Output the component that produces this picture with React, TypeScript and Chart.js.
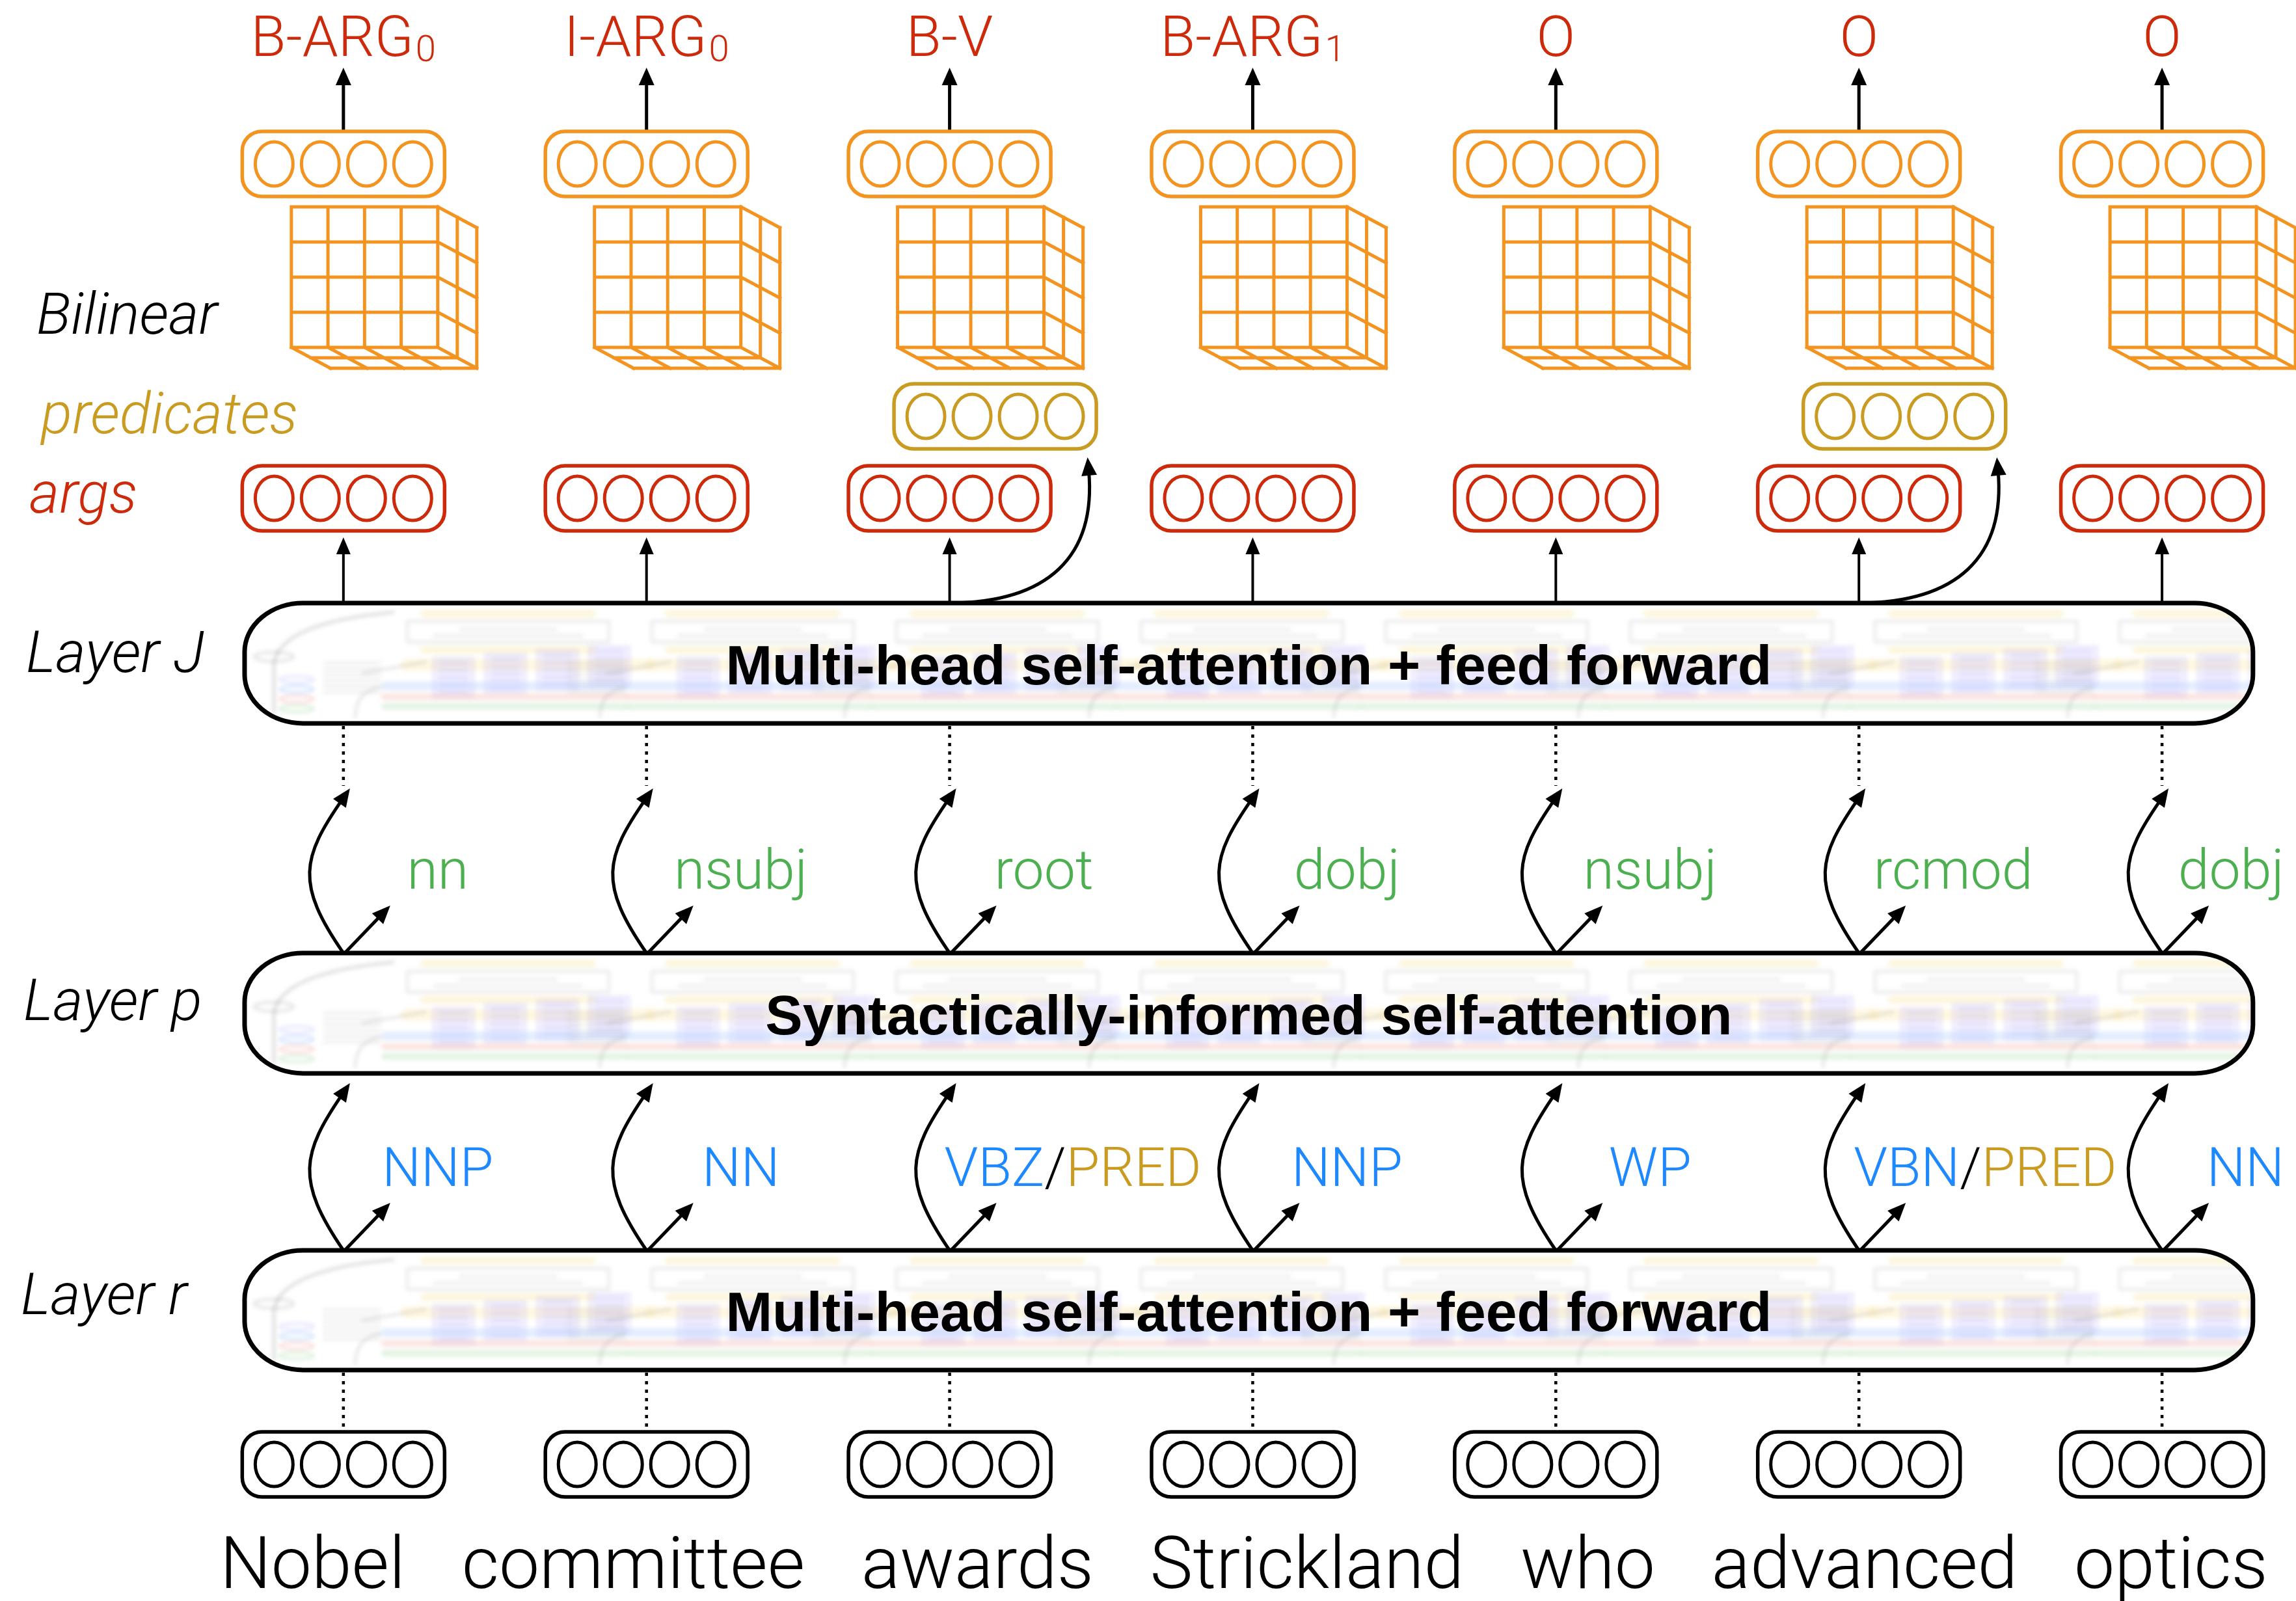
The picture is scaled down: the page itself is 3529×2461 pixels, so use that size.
import React, { useEffect, useRef } from "react";
import { Chart, registerables } from "chart.js";

Chart.register(...registerables);

// ---------------- data ----------------
const words = ["Nobel", "committee", "awards", "Strickland", "who", "advanced", "optics"];
const posTags = ["NNP", "NN", "VBZ/PRED", "NNP", "WP", "VBN/PRED", "NN"];
const depLabels = ["nn", "nsubj", "root", "dobj", "nsubj", "rcmod", "dobj"];
const srlTags = ["B-ARG0", "I-ARG0", "B-V", "B-ARG1", "O", "O", "O"];
const layerNames = ["Layer r", "Layer p", "Layer J"];
const layerTitles = [
  "Multi-head self-attention + feed forward",
  "Syntactically-informed self-attention",
  "Multi-head self-attention + feed forward",
];
const sideLabels = ["Bilinear", "predicates", "args"];
const unitsPerVector = 4;

// ---------------- layout / style ----------------
const W = 3529;
const H = 2461;
const X_MIN = -1.133;
const X_MAX = 6.442;
const LAYER_X = [-0.326, 6.3];
const ROW = {
  tagBase: 86,
  outTip: 104,
  outBox: 252,
  cubeTop: 318,
  pred: 640,
  args: 766,
  layers: [
    [1922, 2106],
    [1465, 1650],
    [927, 1112],
  ],
  emb: 2251,
  wordBase: 2441,
};
const COL = {
  red: "#CC2A0A",
  orange: "#F39420",
  gold: "#C99B21",
  green: "#4CAF50",
  blue: "#1E88FF",
  black: "#000000",
};
const LIGHT = "Roboto, 'Liberation Sans', sans-serif";
const BOLD = "'Liberation Sans', Arial, sans-serif";

type Ctx = CanvasRenderingContext2D;

function rrect(ctx: Ctx, x: number, y: number, w: number, h: number, r: number) {
  ctx.beginPath();
  ctx.moveTo(x + r, y);
  ctx.arcTo(x + w, y, x + w, y + h, r);
  ctx.arcTo(x + w, y + h, x, y + h, r);
  ctx.arcTo(x, y + h, x, y, r);
  ctx.arcTo(x, y, x + w, y, r);
  ctx.closePath();
}

function pillPath(ctx: Ctx, x: number, y: number, w: number, h: number, rx: number, ry: number) {
  ctx.beginPath();
  ctx.moveTo(x + rx, y);
  ctx.lineTo(x + w - rx, y);
  ctx.ellipse(x + w - rx, y + ry, rx, ry, 0, -Math.PI / 2, 0);
  ctx.lineTo(x + w, y + h - ry);
  ctx.ellipse(x + w - rx, y + h - ry, rx, ry, 0, 0, Math.PI / 2);
  ctx.lineTo(x + rx, y + h);
  ctx.ellipse(x + rx, y + h - ry, rx, ry, 0, Math.PI / 2, Math.PI);
  ctx.lineTo(x, y + ry);
  ctx.ellipse(x + rx, y + ry, rx, ry, 0, Math.PI, Math.PI * 1.5);
  ctx.closePath();
}

function vecBox(ctx: Ctx, cx: number, cy: number, color: string) {
  const w = 311, h = 100;
  ctx.save();
  ctx.strokeStyle = color;
  ctx.lineWidth = 5.5;
  rrect(ctx, cx - w / 2, cy - h / 2, w, h, 30);
  ctx.stroke();
  ctx.lineWidth = 5;
  for (let k = 0; k < unitsPerVector; k++) {
    ctx.beginPath();
    ctx.ellipse(cx + (k - (unitsPerVector - 1) / 2) * 71, cy, 29, 34, 0, 0, Math.PI * 2);
    ctx.stroke();
  }
  ctx.restore();
}

function arrowHead(ctx: Ctx, tx: number, ty: number, dx: number, dy: number, len: number, hw: number) {
  const n = Math.hypot(dx, dy);
  const ux = dx / n, uy = dy / n;
  const bx = tx - ux * len, by = ty - uy * len;
  ctx.beginPath();
  ctx.moveTo(tx, ty);
  ctx.lineTo(bx - uy * hw, by + ux * hw);
  ctx.lineTo(bx + uy * hw, by - ux * hw);
  ctx.closePath();
  ctx.fill();
}

function straightArrow(ctx: Ctx, x0: number, y0: number, x1: number, y1: number, lw: number, len: number, hw: number) {
  const dx = x1 - x0, dy = y1 - y0, n = Math.hypot(dx, dy);
  ctx.lineWidth = lw;
  ctx.beginPath();
  ctx.moveTo(x0, y0);
  ctx.lineTo(x1 - (dx / n) * len * 0.8, y1 - (dy / n) * len * 0.8);
  ctx.stroke();
  arrowHead(ctx, x1, y1, dx, dy, len, hw);
}

function curveArrow(
  ctx: Ctx,
  x0: number, y0: number,
  c1x: number, c1y: number,
  c2x: number, c2y: number,
  x1: number, y1: number,
  lw: number, len: number, hw: number
) {
  const dx = x1 - c2x, dy = y1 - c2y, n = Math.hypot(dx, dy);
  const sx = (dx / n) * len * 0.7, sy = (dy / n) * len * 0.7;
  ctx.lineWidth = lw;
  ctx.beginPath();
  ctx.moveTo(x0, y0);
  ctx.bezierCurveTo(c1x, c1y, c2x, c2y, x1 - sx, y1 - sy);
  ctx.stroke();
  arrowHead(ctx, x1, y1, dx, dy, len, hw);
}

function cube(ctx: Ctx, x: number, y: number, w: number, h: number, dx: number, dy: number, n: number, d: number) {
  ctx.save();
  ctx.strokeStyle = COL.orange;
  ctx.lineWidth = 5;
  ctx.lineCap = "square";
  ctx.beginPath();
  for (let k = 0; k <= n; k++) {
    const gx = x + (k * w) / n;
    ctx.moveTo(gx, y);
    ctx.lineTo(gx, y + h);
    const gy = y + (k * h) / n;
    ctx.moveTo(x, gy);
    ctx.lineTo(x + w, gy);
  }
  for (let k = 0; k <= n; k++) {
    const gy = y + (k * h) / n;
    ctx.moveTo(x + w, gy);
    ctx.lineTo(x + w + dx, gy + dy);
    const gx = x + (k * w) / n;
    ctx.moveTo(gx, y + h);
    ctx.lineTo(gx + dx, y + h + dy);
  }
  for (let j = 1; j <= d; j++) {
    const ox = (dx * j) / d, oy = (dy * j) / d;
    ctx.moveTo(x + w + ox, y + oy);
    ctx.lineTo(x + w + ox, y + h + oy);
    ctx.moveTo(x + ox, y + h + oy);
    ctx.lineTo(x + w + ox, y + h + oy);
  }
  ctx.stroke();
  ctx.restore();
}

function tagText(ctx: Ctx, text: string, cx: number, base: number, size: number, color: string) {
  const m = text.match(/^(.*?)(\d+)$/);
  const main = m ? m[1] : text;
  const sub = m ? m[2] : "";
  const subSize = size * 0.64;
  ctx.font = `300 ${size}px ${LIGHT}`;
  const w1 = ctx.measureText(main).width;
  ctx.font = `300 ${subSize}px ${LIGHT}`;
  const w2 = sub ? ctx.measureText(sub).width + 3 : 0;
  const left = cx - (w1 + w2) / 2;
  ctx.fillStyle = color;
  ctx.textAlign = "left";
  ctx.textBaseline = "alphabetic";
  ctx.font = `300 ${size}px ${LIGHT}`;
  ctx.fillText(main, left, base);
  if (sub) {
    ctx.font = `300 ${subSize}px ${LIGHT}`;
    ctx.fillText(sub, left + w1 + 3, base + 8);
  }
}

function labelLeft(cx: number, w: number) {
  return Math.max(cx - 8, Math.min(cx + 145 - w / 2, W - 18 - w));
}

function posText(ctx: Ctx, tag: string, cx: number, base: number, size: number) {
  const parts = tag.split("/");
  const pieces: { t: string; c: string }[] = [{ t: parts[0], c: COL.blue }];
  if (parts.length > 1) {
    pieces.push({ t: "/", c: COL.black });
    pieces.push({ t: parts[1], c: COL.gold });
  }
  ctx.font = `300 ${size}px ${LIGHT}`;
  ctx.textAlign = "left";
  ctx.textBaseline = "alphabetic";
  const total = pieces.reduce((s, p) => s + ctx.measureText(p.t).width, 0);
  let x = labelLeft(cx, total);
  for (const p of pieces) {
    ctx.fillStyle = p.c;
    ctx.fillText(p.t, x, base);
    x += ctx.measureText(p.t).width;
  }
}

function layerTexture(ctx: Ctx, x0: number, y0: number, x1: number, y1: number) {
  ctx.save();
  pillPath(ctx, x0, y0, x1 - x0, y1 - y0, 90, 75);
  ctx.clip();
  ctx.filter = "blur(3px)";
  const mid = (y0 + y1) / 2;
  ctx.strokeStyle = "rgba(140,140,140,0.35)";
  ctx.lineWidth = 4;
  ctx.beginPath();
  ctx.moveTo(x0 + 230, y0 + 14);
  ctx.quadraticCurveTo(x0 + 55, y0 + 30, x0 + 45, mid);
  ctx.lineTo(x0 + 45, y1 - 14);
  ctx.stroke();
  ctx.strokeStyle = "rgba(140,140,140,0.25)";
  ctx.beginPath();
  ctx.ellipse(x0 + 45, mid - 10, 30, 7, 0, 0, Math.PI * 2);
  ctx.stroke();
  const marks = ["rgba(150,150,255,0.3)", "rgba(100,160,255,0.35)", "rgba(240,130,120,0.35)", "rgba(120,200,120,0.35)"];
  marks.forEach((c, i) => {
    ctx.strokeStyle = c;
    ctx.lineWidth = 3;
    ctx.beginPath();
    ctx.ellipse(x0 + 80, mid + 25 + i * 15, 26, 5, 0, 0, Math.PI * 2);
    ctx.stroke();
  });
  for (let ux = x0 + 270; ux < x1 - 60; ux += 376) {
    ctx.fillStyle = "rgba(250,228,160,0.35)";
    rrect(ctx, ux, y0 + 10, 270, 12, 6);
    ctx.fill();
    ctx.strokeStyle = "rgba(150,150,150,0.28)";
    ctx.lineWidth = 3;
    ctx.strokeRect(ux - 20, y0 + 28, 310, 32);
    ctx.fillStyle = "rgba(150,150,150,0.2)";
    ctx.fillRect(ux + 60, y0 + 38, 150, 4);
    ctx.fillRect(ux + 20, y0 + 48, 230, 4);
    ctx.fillStyle = "rgba(250,228,160,0.35)";
    rrect(ctx, ux, y0 + 66, 270, 12, 6);
    ctx.fill();
    ctx.fillStyle = "rgba(252,236,180,0.4)";
    rrect(ctx, ux - 30, y0 + 86, 390, 18, 9);
    ctx.fill();
    ctx.strokeStyle = "rgba(140,140,140,0.3)";
    ctx.beginPath();
    ctx.moveTo(ux - 90, y0 + 108);
    ctx.lineTo(ux + 10, y0 + 90);
    ctx.stroke();
    ctx.fillStyle = "rgba(150,150,150,0.22)";
    for (let r = 0; r < 6; r++) ctx.fillRect(ux - 150, mid - 2 + r * 9, 90, 3);
    for (let b = 0; b < 4; b++) {
      const bx = ux + 20 + b * 80;
      const by = mid - 8 - b * 6;
      ctx.fillStyle = "rgba(210,200,255,0.26)";
      ctx.fillRect(bx, by, 62, 60);
      ctx.strokeStyle = "rgba(170,160,240,0.28)";
      ctx.lineWidth = 2;
      ctx.strokeRect(bx, by, 62, 60);
      ctx.fillStyle = "rgba(160,145,245,0.26)";
      for (let r = 0; r < 5; r++) ctx.fillRect(bx + 8, by + 6 + r * 11, 46, 4);
    }
    ctx.fillStyle = "rgba(190,215,255,0.45)";
    rrect(ctx, ux - 60, y1 - 64, 380, 13, 6);
    ctx.fill();
    ctx.fillStyle = "rgba(245,190,180,0.4)";
    rrect(ctx, ux - 60, y1 - 46, 380, 10, 5);
    ctx.fill();
    ctx.fillStyle = "rgba(190,230,190,0.45)";
    rrect(ctx, ux - 60, y1 - 31, 380, 10, 5);
    ctx.fill();
    ctx.strokeStyle = "rgba(140,140,140,0.3)";
    ctx.lineWidth = 3;
    ctx.beginPath();
    ctx.moveTo(ux - 100, y1 - 8);
    ctx.quadraticCurveTo(ux - 100, y1 - 50, ux - 60, y1 - 56);
    ctx.stroke();
  }
  ctx.restore();
}

const bgPlugin = {
  id: "whiteBg",
  beforeDraw(chart: any) {
    const ctx: Ctx = chart.ctx;
    ctx.save();
    ctx.fillStyle = "#ffffff";
    ctx.fillRect(0, 0, chart.width, chart.height);
    ctx.restore();
  },
};

const diagramPlugin = {
  id: "lisaDiagram",
  afterDatasetsDraw(chart: any) {
    const ctx: Ctx = chart.ctx;
    const xs = chart.scales.x;
    const ys = chart.scales.y;
    const X = (v: number) => xs.getPixelForValue(v);
    const Y = (v: number) => ys.getPixelForValue(v);
    const meta = chart.getDatasetMeta(0);
    const cols: number[] = meta.data.map((p: any) => p.x);
    const left = chart.chartArea.left;

    ctx.save();
    ctx.lineJoin = "round";
    ctx.strokeStyle = COL.black;
    ctx.fillStyle = COL.black;

    // ---- layer boxes ----
    const lx0 = X(LAYER_X[0]), lx1 = X(LAYER_X[1]);
    ROW.layers.forEach(([t, b], li) => {
      const y0 = Y(t), y1 = Y(b);
      layerTexture(ctx, lx0, y0, lx1, y1);
      ctx.strokeStyle = COL.black;
      ctx.lineWidth = 7;
      pillPath(ctx, lx0, y0, lx1 - lx0, y1 - y0, 90, 75);
      ctx.stroke();
      ctx.fillStyle = COL.black;
      ctx.font = `bold 86px ${BOLD}`;
      ctx.textAlign = "center";
      ctx.textBaseline = "alphabetic";
      ctx.fillText(layerTitles[li], (lx0 + lx1) / 2, (y0 + y1) / 2 + 32);
    });

    // ---- side labels ----
    ctx.textAlign = "left";
    ctx.textBaseline = "alphabetic";
    ctx.font = `italic 300 89px ${LIGHT}`;
    ctx.fillStyle = COL.black;
    ctx.fillText(sideLabels[0], left + 56, Y(513));
    ctx.fillStyle = COL.gold;
    ctx.fillText(sideLabels[1], left + 63, Y(666));
    ctx.fillStyle = COL.red;
    ctx.fillText(sideLabels[2], left + 45, Y(788));
    ctx.fillStyle = COL.black;
    const layerLabelPos = [
      [32, 2020],
      [36, 1568],
      [40, 1033],
    ];
    layerNames.forEach((n, i) => ctx.fillText(n, left + layerLabelPos[i][0], Y(layerLabelPos[i][1])));

    cols.forEach((cx, i) => {
      ctx.strokeStyle = COL.black;
      ctx.fillStyle = COL.black;
      ctx.lineCap = "butt";

      // output tags + arrows
      tagText(ctx, srlTags[i], cx, Y(ROW.tagBase), 88, COL.red);
      ctx.fillStyle = COL.black;
      straightArrow(ctx, cx, Y(ROW.outBox) - 50, cx, Y(ROW.outTip), 5, 27, 12);
      vecBox(ctx, cx, Y(ROW.outBox), COL.orange);
      cube(ctx, cx - 80, Y(ROW.cubeTop), 225, 216, 60, 32, unitsPerVector, 2);

      // args
      vecBox(ctx, cx, Y(ROW.args), COL.red);
      const jTop = Y(ROW.layers[2][0]);
      ctx.fillStyle = COL.black;
      straightArrow(ctx, cx, jTop, cx, Y(ROW.args) + 60, 4, 26, 11);

      // predicates
      if (posTags[i].includes("PRED")) {
        vecBox(ctx, cx + 70, Y(ROW.pred), COL.gold);
        ctx.fillStyle = COL.black;
        curveArrow(ctx, cx, jTop, cx + 150, jTop - 1, cx + 226, jTop - 70, cx + 212, Y(ROW.pred) + 63, 5, 28, 12);
      }

      // dotted connectors
      ctx.save();
      ctx.setLineDash([5, 8]);
      ctx.lineWidth = 4.5;
      ctx.beginPath();
      ctx.moveTo(cx, Y(ROW.layers[2][1]) + 4);
      ctx.lineTo(cx, Y(1208));
      ctx.moveTo(cx, Y(ROW.layers[0][1]) + 4);
      ctx.lineTo(cx, Y(ROW.emb) - 48);
      ctx.stroke();
      ctx.restore();

      // dependency arcs (Layer p -> Layer J)
      const pTop = Y(ROW.layers[1][0]);
      const pBot = Y(ROW.layers[1][1]);
      const rTop = Y(ROW.layers[0][0]);
      const t1 = Y(1212);
      const h1 = pTop - t1;
      curveArrow(ctx, cx, pTop, cx - 74, pTop - h1 * 0.42, cx - 64, t1 + h1 * 0.42, cx + 10, t1, 5, 28, 12);
      straightArrow(ctx, cx + 2, pTop, cx + 72, pTop - 73, 5, 28, 12);

      // POS arcs (Layer r -> Layer p)
      const t2 = pBot + 15;
      const h2 = rTop - t2;
      curveArrow(ctx, cx, rTop, cx - 74, rTop - h2 * 0.42, cx - 64, t2 + h2 * 0.42, cx + 10, t2, 5, 28, 12);
      straightArrow(ctx, cx + 2, rTop, cx + 72, rTop - 73, 5, 28, 12);

      // labels
      ctx.font = `300 86px ${LIGHT}`;
      ctx.textAlign = "left";
      ctx.fillStyle = COL.green;
      const dw = ctx.measureText(depLabels[i]).width;
      ctx.fillText(depLabels[i], labelLeft(cx, dw), Y(1366));
      posText(ctx, posTags[i], cx, Y(1823), 84);

      // embeddings
      vecBox(ctx, cx, Y(ROW.emb), COL.black);
    });

    // ---- words, set as one sentence line ----
    ctx.fillStyle = COL.black;
    ctx.font = `300 111px ${LIGHT}`;
    ctx.textAlign = "left";
    const lineStart = lx0 - 38;
    const lineEnd = lx1 + 23;
    const widths = words.map((w) => ctx.measureText(w).width);
    const gap = (lineEnd - lineStart - widths.reduce((a, b) => a + b, 0)) / (words.length - 1);
    let wx = lineStart;
    words.forEach((w, i) => {
      ctx.fillText(w, wx, Y(ROW.wordBase));
      wx += widths[i] + gap;
    });

    ctx.restore();
  },
};

export default function App() {
  const ref = useRef<HTMLCanvasElement>(null);
  useEffect(() => {
    document.body.style.margin = "0";
    const canvas = ref.current!;
    const chart = new Chart(canvas, {
      type: "scatter",
      data: {
        datasets: [
          {
            label: "tokens",
            data: words.map((_, i) => ({ x: i, y: ROW.emb })),
            pointRadius: 0,
            showLine: false,
          },
        ],
      },
      options: {
        animation: false,
        responsive: false,
        devicePixelRatio: 1,
        events: [],
        layout: { padding: 0 },
        plugins: { legend: { display: false }, tooltip: { enabled: false }, title: { display: false } },
        scales: {
          x: { type: "linear", display: false, min: X_MIN, max: X_MAX },
          y: { type: "linear", display: false, min: 0, max: H, reverse: true },
        },
      },
      plugins: [bgPlugin, diagramPlugin],
    } as any);
    return () => chart.destroy();
  }, []);
  return <canvas ref={ref} width={W} height={H} style={{ display: "block", width: W, height: H }} />;
}
